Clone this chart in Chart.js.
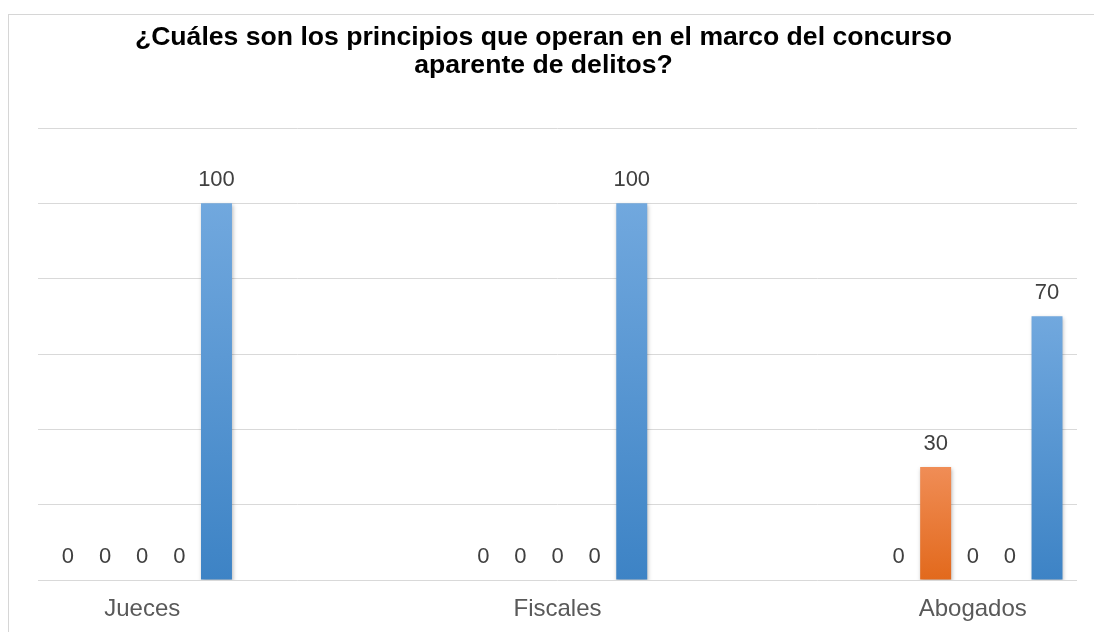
<!DOCTYPE html>
<html>
<head>
<meta charset="utf-8">
<script src="https://cdn.jsdelivr.net/npm/chart.js@4/dist/chart.umd.min.js"></script>
<style>
  html, body { margin: 0; padding: 0; background: #ffffff; overflow: hidden; }
  #frame { position: absolute; left: 8px; top: 14px; width: 2000px; height: 2000px; border: 1px solid #d6d6d6; box-sizing: border-box; }
  #c { position: absolute; left: 0; top: 0; }
</style>
</head>
<body>
<div id="frame"></div>
<canvas id="c" width="1094" height="632"></canvas>
<script>
// ---- data ----
const titleLines = ['¿Cuáles son los principios que operan en el marco del concurso', 'aparente de delitos?'];
const categories = ['Jueces', 'Fiscales', 'Abogados'];
const seriesNames = ['Serie 1', 'Serie 2', 'Serie 3', 'Serie 4', 'Serie 5'];
const serie1 = [0, 0, 0];
const serie2 = [0, 0, 30];
const serie3 = [0, 0, 0];
const serie4 = [0, 0, 0];
const serie5 = [100, 100, 70];
const yTicks = [0, 20, 40, 60, 80, 100, 120];

// ---- styles ----
const gradStops = [
  ['#5b9bd5', '#5b9bd5'],
  ['#f08d56', '#e2691c'],
  ['#a5a5a5', '#a5a5a5'],
  ['#ffc000', '#ffc000'],
  ['#71a8de', '#3d83c5']
];

function barGradient(idx) {
  return function (ctx) {
    const chart = ctx.chart;
    if (ctx.type !== 'data' || !chart.chartArea) return gradStops[idx][0];
    const ys = chart.scales.y;
    const v = ctx.parsed ? ctx.parsed.y : 0;
    const top = ys.getPixelForValue(v);
    const base = ys.getPixelForValue(0);
    if (Math.abs(base - top) < 1) return gradStops[idx][0];
    const g = chart.ctx.createLinearGradient(0, top, 0, base);
    g.addColorStop(0, gradStops[idx][0]);
    g.addColorStop(1, gradStops[idx][1]);
    return g;
  };
}

const allSeries = [serie1, serie2, serie3, serie4, serie5];
const datasets = allSeries.map((s, i) => ({
  label: seriesNames[i],
  data: s.map((v, k) => ({ x: k, y: v })),
  backgroundColor: barGradient(i),
  borderWidth: 0,
  categoryPercentage: 0.447,
  barPercentage: 0.834
}));

const labelPlugin = {
  id: 'valueLabels',
  beforeDatasetsDraw(chart) {
    const ctx = chart.ctx;
    ctx.save();
    ctx.shadowColor = 'rgba(0,0,0,0.28)';
    ctx.shadowBlur = 4;
    ctx.shadowOffsetX = 1;
    ctx.shadowOffsetY = 2;
  },
  afterDatasetsDraw(chart) {
    const ctx = chart.ctx;
    ctx.restore();
    ctx.save();
    ctx.font = '22px "Liberation Sans", Arial, sans-serif';
    ctx.fillStyle = '#404040';
    ctx.textAlign = 'center';
    ctx.textBaseline = 'alphabetic';
    chart.data.datasets.forEach((ds, di) => {
      const meta = chart.getDatasetMeta(di);
      meta.data.forEach((el, k) => {
        const v = ds.data[k].y;
        ctx.fillText(String(v), el.x, el.y - 17);
      });
    });
    ctx.restore();
  }
};

new Chart(document.getElementById('c'), {
  type: 'bar',
  data: { datasets },
  plugins: [labelPlugin],
  options: {
    responsive: false,
    animation: false,
    layout: { padding: { left: 10, right: 17, top: 15, bottom: 8 } },
    plugins: {
      legend: { display: false },
      tooltip: { enabled: false },
      title: {
        display: true,
        text: titleLines,
        color: '#000000',
        font: { family: '"Liberation Sans", Arial, sans-serif', size: 26.6, weight: 'bold', lineHeight: 1.053 },
        padding: { top: 9, bottom: 48 }
      }
    },
    scales: {
      x: {
        type: 'linear',
        min: -0.251,
        max: 2.251,
        offset: false,
        grid: { display: false, drawTicks: false },
        border: { display: false },
        afterFit: (scale) => { scale.height = 44; },
        ticks: {
          stepSize: 1,
          includeBounds: false,
          autoSkip: false,
          maxRotation: 0,
          padding: 15,
          color: '#595959',
          font: { family: '"Liberation Sans", Arial, sans-serif', size: 24, lineHeight: 1.2 },
          callback: (v) => (Number.isInteger(v) && categories[v] !== undefined) ? categories[v] : ''
        }
      },
      y: {
        min: yTicks[0],
        max: yTicks[yTicks.length - 1],
        afterFit: (scale) => { scale.width = 28; },
        grid: { color: '#d9d9d9', lineWidth: 1, drawTicks: false },
        border: { display: false },
        ticks: { display: false, stepSize: yTicks[1] - yTicks[0] }
      }
    }
  }
});
</script>
</body>
</html>
